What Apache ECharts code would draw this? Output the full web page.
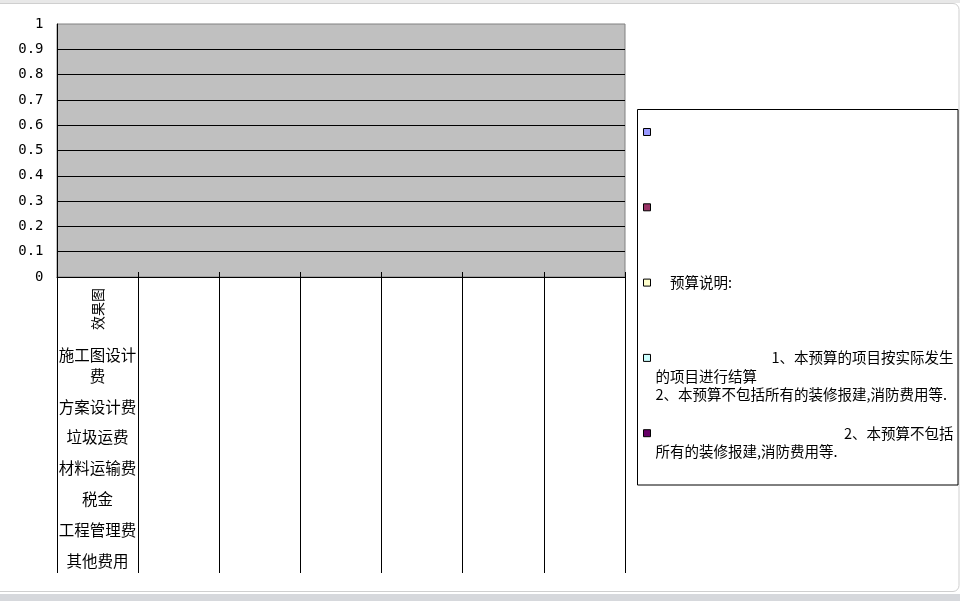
<!DOCTYPE html>
<html>
<head>
<meta charset="utf-8">
<script src="https://cdn.jsdelivr.net/npm/echarts@6/dist/echarts.min.js"></script>
<style>
html,body{margin:0;padding:0;background:#fff;}
#chart{width:960px;height:601px;}
</style>
</head>
<body>
<div id="chart"></div>
<script>
// ---- data ----
const categoryNames = ['效果图', '施工图设计费', '方案设计费', '垃圾运费', '材料运输费', '税金', '工程管理费', '其他费用'];
const slotCount = 7;
const yTicks = [0, 0.1, 0.2, 0.3, 0.4, 0.5, 0.6, 0.7, 0.8, 0.9, 1];
const seriesNames = [
  '\u3000',
  '\u3000\u3000',
  '\u3000预算说明:',
  '\u3000\u3000\u3000\u3000\u3000\u3000\u3000\u30001、本预算的项目按实际发生\n的项目进行结算\n2、本预算不包括所有的装修报建,消防费用等.',
  '\u3000\u3000\u3000\u3000\u3000\u3000\u3000\u3000\u3000\u3000\u3000\u3000\u30002、本预算不包括\n所有的装修报建,消防费用等.'
];
const seriesColors = ['#9999FF', '#993366', '#FFFFCC', '#CCFFFF', '#660066'];
const values1 = [0, 0, 0, 0, 0, 0, 0];
const values2 = [0, 0, 0, 0, 0, 0, 0];
const values3 = [0, 0, 0, 0, 0, 0, 0];
const values4 = [0, 0, 0, 0, 0, 0, 0];
const values5 = [0, 0, 0, 0, 0, 0, 0];
const seriesValues = [values1, values2, values3, values4, values5];

// ---- build ----
const slots = [];
for (let i = 0; i < slotCount; i++) slots.push(i === 0 ? categoryNames[0] : '');

function stackedLabel() {
  const parts = [];
  categoryNames.slice(1).forEach(function (n) {
    if (n.length > 5) {
      parts.push('{a|' + n.slice(0, 5) + '}');
      parts.push('{a|' + n.slice(5) + '}');
      parts.push('{s| }');
    } else {
      parts.push('{b|' + n + '}');
    }
  });
  return parts.join('\n');
}

const catFont = {fontFamily: 'Noto Sans CJK SC', fontSize: 15.5, color: '#000', align: 'center'};

const chart = echarts.init(document.getElementById('chart'), null, {renderer: 'canvas'});
chart.setOption({
  animation: false,
  backgroundColor: '#fff',
  color: seriesColors,
  grid: {
    left: 57, top: 24, width: 568, height: 253,
    show: true, backgroundColor: '#C0C0C0', borderColor: '#808080', borderWidth: 1
  },
  legend: {
    orient: 'vertical',
    left: 643,
    top: 85.75,
    padding: 0,
    itemGap: -17.2,
    itemWidth: 7,
    itemHeight: 7,
    selectedMode: false,
    icon: 'rect',
    itemStyle: {borderColor: '#000', borderWidth: 1},
    textStyle: {fontFamily: 'Noto Sans CJK SC', fontSize: 14.5, lineHeight: 18.5, color: '#000'},
    formatter: function (name) {
      const lines = name.split('\n');
      while (lines.length < 3) lines.push('');
      return '\n\n' + lines.join('\n');
    },
    data: seriesNames
  },
  xAxis: [
    {
      type: 'category',
      data: slots,
      position: 'bottom',
      boundaryGap: true,
      axisLine: {show: true, lineStyle: {color: '#000', width: 1}},
      axisTick: {show: true, interval: 0, length: 296, lineStyle: {color: '#000', width: 1}},
      axisLabel: {
        interval: 0, rotate: 90, margin: 11,
        fontFamily: 'Noto Sans CJK SC', fontSize: 14, color: '#000'
      },
      splitLine: {show: false}
    },
    {
      type: 'category',
      data: slots,
      position: 'bottom',
      boundaryGap: true,
      axisLine: {show: false},
      axisTick: {show: true, interval: 0, inside: true, length: 5, lineStyle: {color: '#000', width: 1}},
      axisLabel: {
        interval: 0, margin: 67.5,
        formatter: function (v, idx) { return idx === 0 ? stackedLabel() : ''; },
        rich: {
          a: Object.assign({lineHeight: 21}, catFont),
          s: Object.assign({}, catFont, {lineHeight: 4.8, fontSize: 4}),
          b: Object.assign({lineHeight: 30.8}, catFont)
        }
      },
      splitLine: {show: false}
    }
  ],
  yAxis: {
    type: 'value',
    min: yTicks[0],
    max: yTicks[yTicks.length - 1],
    interval: 0.1,
    axisLine: {show: true, lineStyle: {color: '#000', width: 1}},
    axisTick: {show: false},
    axisLabel: {
      margin: 13.5,
      fontFamily: 'DejaVu Sans Mono', fontSize: 14, color: '#000',
      formatter: function (v) { return String(Math.round(v * 10) / 10); }
    },
    splitLine: {show: true, showMaxLine: false, lineStyle: {color: '#000', width: 1}}
  },
  series: seriesNames.map(function (n, i) {
    return {type: 'bar', name: n, data: seriesValues[i], xAxisIndex: 0};
  }),
  graphic: [
    {type: 'rect', silent: true, z: 100, shape: {x: 637.5, y: 109.5, width: 320.5, height: 375.5},
     style: {fill: 'none', stroke: '#000', lineWidth: 1}},
    {type: 'rect', silent: true, z: 90, shape: {x: 0, y: 0, width: 960, height: 3},
     style: {fill: '#e8e8e8'}},
    {type: 'rect', silent: true, z: 90, shape: {x: -10, y: 3.5, width: 969, height: 588, r: 6},
     style: {fill: 'none', stroke: '#cfcfcf', lineWidth: 1}},
    {type: 'rect', silent: true, z: 90, shape: {x: 0, y: 594, width: 960, height: 7},
     style: {fill: '#d6d8dc'}}
  ]
});
</script>
</body>
</html>
